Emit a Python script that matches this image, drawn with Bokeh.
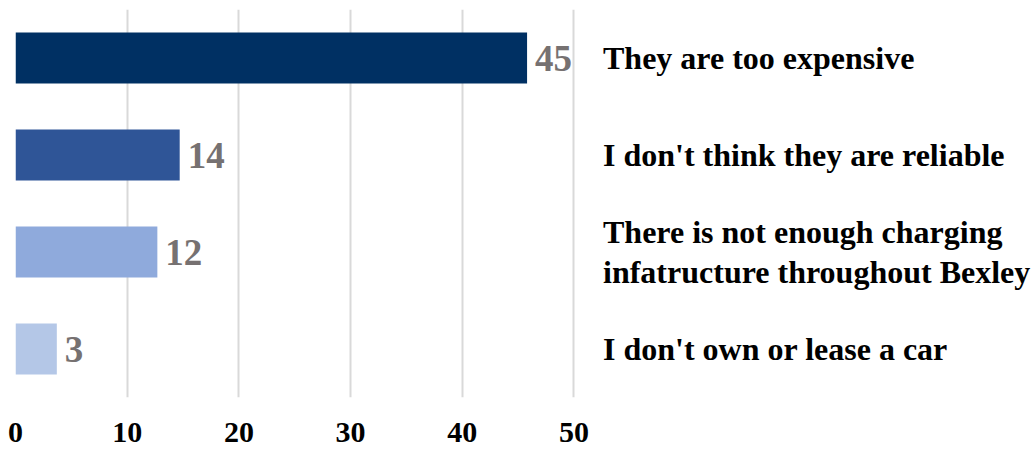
from bokeh.plotting import figure
from bokeh.models import ColumnDataSource, Range1d, FactorRange, FixedTicker
from bokeh.embed import file_html
from bokeh.resources import INLINE
from bokeh.core.properties import value

categories = [
    "They are too expensive",
    "I don't think they are reliable",
    "There is not enough charging\ninfatructure throughout Bexley",
    "I don't own or lease a car",
]
bar_values = [45.8, 14.7, 12.7, 3.7]
value_labels = ["45", "14", "12", "3"]
bar_colors = ["#003063", "#2F5597", "#8FAADC", "#B4C7E7"]
x_ticks = [0, 10, 20, 30, 40, 50]

FONT = "Liberation Serif"
X_END = 91.05
LABEL_X = 52.6

src = ColumnDataSource(dict(cat=categories, val=bar_values, lab=value_labels, color=bar_colors))

p = figure(width=1032, height=450, x_range=Range1d(0, X_END),
           y_range=FactorRange(*reversed(categories)),
           output_backend="svg", toolbar_location=None,
           min_border_left=15, min_border_right=0, min_border_top=9, min_border_bottom=53)
p.outline_line_color = None
p.background_fill_color = "white"

p.hbar(y="cat", right="val", left=0, height=0.525, fill_color="color", line_color=None, source=src)
p.text(x="val", y="cat", text="lab", x_offset=8, text_align="left", text_baseline="middle",
       text_font=value(FONT), text_font_style="bold", text_font_size="37px", text_color="#767171", source=src)
p.text(x=LABEL_X, y="cat", text="cat", text_align="left", text_baseline="middle",
       text_font=value(FONT), text_font_style="bold", text_font_size="32px", text_color="black",
       text_line_height=1.1, source=src)

p.yaxis.visible = False
p.ygrid.visible = False
p.xgrid.ticker = FixedTicker(ticks=x_ticks)
p.xgrid.grid_line_color = "#D9D9D9"
p.xgrid.grid_line_width = 2
p.xaxis.ticker = FixedTicker(ticks=x_ticks)
p.xaxis.axis_line_color = None
p.xaxis.major_tick_line_color = None
p.xaxis.minor_tick_line_color = None
p.xaxis.major_label_text_font = FONT
p.xaxis.major_label_text_font_style = "bold"
p.xaxis.major_label_text_font_size = "30px"
p.xaxis.major_label_text_color = "black"
p.xaxis.major_label_standoff = 19

open("out.html", "w").write(file_html(p, INLINE))
